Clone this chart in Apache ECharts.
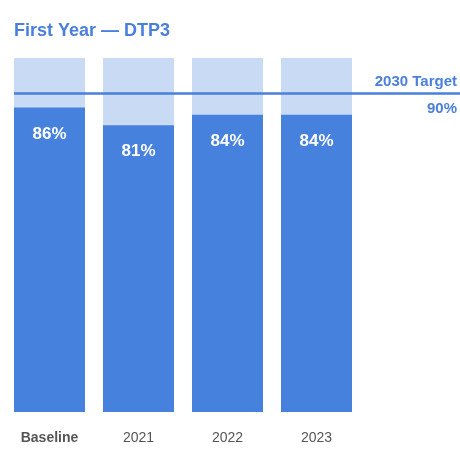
<!DOCTYPE html>
<html><head><meta charset="utf-8">
<script src="https://cdn.jsdelivr.net/npm/echarts@6/dist/echarts.min.js"></script>
<style>html,body{margin:0;padding:0;background:#fff}#c{width:460px;height:470px}</style>
</head><body><div id="c"></div>
<script>
const categories = ['Baseline', '2021', '2022', '2023'];
const coverage = [86, 81, 84, 84];
const targetValue = 90;
const targetLabel = '2030 Target';

const DARK = '#4681dd';
const LIGHT = '#c8daf4';
const TXT = '#4a7fdc';
const FONT = 'Liberation Sans, Arial, Helvetica, sans-serif';

const chart = echarts.init(document.getElementById('c'));
chart.setOption({
  animation: false,
  title: {
    text: 'First Year — DTP3', left: 14, top: 22, padding: 0,
    textStyle: { color: TXT, fontSize: 18, fontWeight: 'bold', fontFamily: FONT }
  },
  grid: [
    { left: 5, right: 99, top: 58, bottom: 58 },
    { left: 14, right: 0, top: 58, bottom: 58 }
  ],
  xAxis: [
    {
      type: 'category', data: categories, gridIndex: 0,
      axisLine: { show: false }, axisTick: { show: false },
      axisLabel: {
        interval: 0, margin: 19, fontSize: 14, color: '#555', fontFamily: FONT,
        formatter: v => v === 'Baseline' ? '{b|' + v + '}' : v,
        rich: { b: { fontWeight: 'bold', fontSize: 14, color: '#555', fontFamily: FONT } }
      }
    },
    { type: 'value', gridIndex: 1, min: 0, max: 1, show: false }
  ],
  yAxis: [
    { type: 'value', gridIndex: 0, min: 0, max: 100, show: false, splitLine: { show: false } },
    { type: 'value', gridIndex: 1, min: 0, max: 100, show: false, splitLine: { show: false } }
  ],
  series: [
    {
      type: 'bar', data: coverage, xAxisIndex: 0, yAxisIndex: 0,
      barWidth: 71,
      itemStyle: { color: DARK },
      showBackground: true,
      backgroundStyle: { color: LIGHT },
      label: {
        show: true, position: 'insideTop', distance: 18,
        formatter: p => p.value + '%',
        color: '#fff', fontSize: 17, fontWeight: 'bold', fontFamily: FONT
      },
      z: 2
    },
    {
      type: 'line', data: [], xAxisIndex: 1, yAxisIndex: 1,
      z: 5,
      markLine: {
        silent: true, symbol: 'none', animation: false,
        data: [
          {
            yAxis: targetValue,
            lineStyle: { color: TXT, width: 2.5, type: 'solid' },
            label: {
              position: 'insideEndTop', formatter: targetLabel, distance: [3, 4],
              color: TXT, fontSize: 15, fontWeight: 'bold', fontFamily: FONT
            }
          },
          {
            yAxis: targetValue,
            lineStyle: { color: 'rgba(0,0,0,0)', width: 1, type: 'solid' },
            label: {
              show: true,
              position: 'insideEndBottom', formatter: targetValue + '%', distance: [3, 8],
              color: TXT, fontSize: 15, fontWeight: 'bold', fontFamily: FONT
            }
          }
        ]
      }
    }
  ]
});
</script></body></html>
